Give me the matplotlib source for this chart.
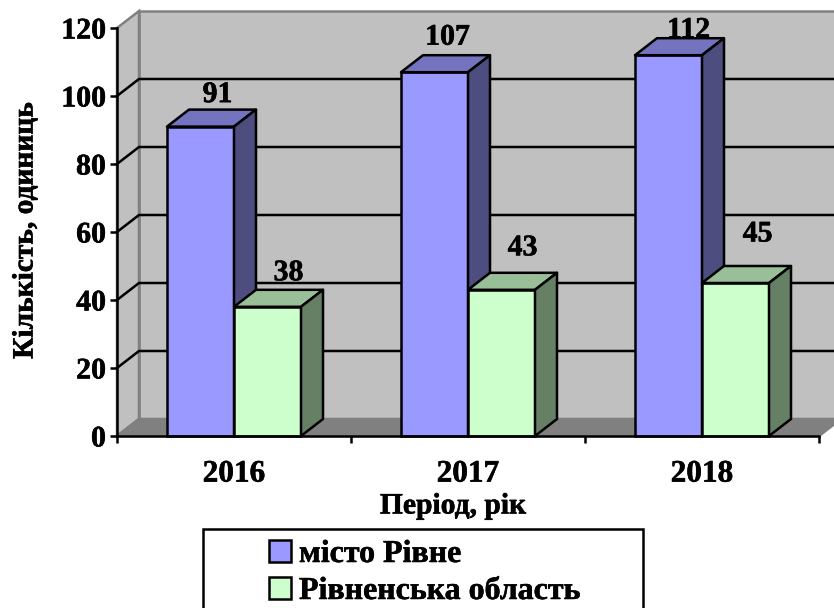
import matplotlib
matplotlib.use('Agg')
import matplotlib.pyplot as plt
import matplotlib.patheffects as pe
from matplotlib.patches import Patch, Rectangle
from matplotlib.text import Text

plt.rcParams['font.family'] = ['Liberation Serif', 'DejaVu Serif']
plt.rcParams['font.weight'] = 'bold'

years = ['2016', '2017', '2018']
city_values = [91, 107, 112]
region_values = [38, 43, 45]
series_names = ['місто Рівне', 'Рівненська область']
y_ticks = [0, 20, 40, 60, 80, 100, 120]

W, H = 834, 608
fig = plt.figure(figsize=(W / 100, H / 100), dpi=100)
ax = fig.add_axes([117 / W, (H - 436) / H, 702 / W, 408 / H])
ax.set_xlim(0, 3)
ax.set_ylim(0, 120)

# depth of the fake 3d box, in data units
dx = 22 / 234
dy = 5
bar_w = 67 / 234
lw = 1.8
ymax = y_ticks[-1]

# walls and floor
ax.fill([dx, 3 + dx, 3 + dx, dx], [dy, dy, ymax + dy, ymax + dy], fc='#c0c0c0', ec='#808080', lw=lw, clip_on=False, zorder=1)
ax.fill([0, dx, dx, 0], [0, dy, ymax + dy, ymax], fc='#c0c0c0', ec='#808080', lw=lw, clip_on=False, zorder=1)
ax.fill([0, dx, 3 + dx, 3], [0, dy, dy, 0], fc='#808080', ec='#808080', lw=lw, clip_on=False, zorder=1)

# gridlines run along the left wall and then the back wall
for t in y_ticks[1:-1]:
    ax.plot([0, dx, 3 + dx], [t, t + dy, t + dy], color='black', lw=lw, clip_on=False, zorder=2)


def draw_bar(x, value, front, top, side):
    ax.bar(x, value, width=bar_w, align='edge', color=front, edgecolor='black', lw=lw, clip_on=False, zorder=4)
    ax.fill([x, x + dx, x + bar_w + dx, x + bar_w], [value, value + dy, value + dy, value],
            fc=top, ec='black', lw=lw, clip_on=False, zorder=4, joinstyle='round')
    ax.fill([x + bar_w, x + bar_w + dx, x + bar_w + dx, x + bar_w], [0, dy, value + dy, value],
            fc=side, ec='black', lw=lw, clip_on=False, zorder=4, joinstyle='round')


# the value labels were moved by hand in the original, offsets in pixels
city_shift = [(17, 32), (13, 35), (20, 25)]
region_shift = [(21, 34), (21, 42), (22, 49)]
for i in range(len(years)):
    x1 = i + 0.5 - bar_w
    x2 = i + 0.5
    draw_bar(x1, city_values[i], '#9999ff', '#7373bf', '#4d4d80')
    draw_bar(x2, region_values[i], '#ccffcc', '#99bf99', '#668066')
    for x, v, s in [(x1, city_values[i], city_shift[i]), (x2, region_values[i], region_shift[i])]:
        ax.annotate(str(v), (x + bar_w / 2, v), xytext=(s[0] * 0.72, s[1] * 0.72), textcoords='offset points',
                    ha='center', va='center', fontsize=21.5, fontweight='bold', zorder=3, annotation_clip=False)

# axes
for name in ['top', 'right']:
    ax.spines[name].set_visible(False)
for name in ['left', 'bottom']:
    ax.spines[name].set_linewidth(lw)
    ax.spines[name].set_zorder(5)
ax.set_yticks(y_ticks)
ax.set_xticks([0, 1, 2, 3])
ax.set_xticklabels([])
ax.set_xticks([0.5, 1.5, 2.5], minor=True)
ax.set_xticklabels(years, minor=True)
ax.tick_params(axis='y', length=5, width=lw, pad=3, labelsize=21.5)
ax.tick_params(axis='x', which='major', length=5, width=lw)
ax.tick_params(axis='x', which='minor', length=0, pad=17, labelsize=22.5)

ax.set_xlabel('Період, рік', fontsize=21.3, fontweight='bold')
ax.xaxis.set_label_coords(336 / 702, -70 / 408)
ax.xaxis.label.set_verticalalignment('center')
ax.set_ylabel('Кількість, одиниць', fontsize=21.2, fontweight='bold')
ax.yaxis.set_label_coords(-92 / 702, 205 / 408)
ax.yaxis.label.set_verticalalignment('center')

# legend box runs past the bottom of the picture
fig.add_artist(Rectangle((203 / W, -0.02), 440 / W, (H - 529) / H + 0.02, transform=fig.transFigure,
                         fc='white', ec='black', lw=lw))
handles = [Patch(fc='#9999ff', ec='black', lw=lw), Patch(fc='#ccffcc', ec='black', lw=lw)]
fig.legend(handles, series_names, loc='upper left', bbox_to_anchor=(269 / W, (H - 540) / H), frameon=False,
           fontsize=23, handlelength=0.69, handleheight=0.66, handletextpad=0.25, labelspacing=0.25,
           borderpad=0, borderaxespad=0)

# original text looks heavier than the plain bold face
for t in fig.findobj(Text):
    t.set_path_effects([pe.withStroke(linewidth=0.4, foreground='black')])

fig.savefig('out.png', dpi=100)
